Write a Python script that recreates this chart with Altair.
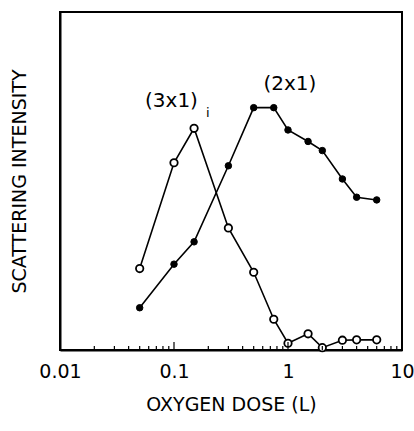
import altair as alt
import pandas as pd

dose = [0.05, 0.1, 0.15, 0.3, 0.5, 0.75, 1, 1.5, 2, 3, 4, 6]
i3x1 = [24.1, 55.4, 65.6, 36.1, 23.0, 9.1, 2.0, 4.8, 0.7, 2.9, 3.0, 3.0]
i2x1 = [12.5, 25.4, 32.0, 54.5, 71.7, 71.7, 65.1, 61.7, 59.0, 50.6, 45.2, 44.4]

x_ticks = [0.01, 0.1, 1, 10]
minor_ticks = [k * d for d in [0.01, 0.1, 1] for k in range(2, 10)]

label_text = ["(3x1)", "i", "(2x1)"]
label_x = [0.095, 0.198, 1.04]
label_y = [73.7, 70.2, 78.7]
label_size = [20, 13, 20]

W, H = 342, 338
FONT = "DejaVu Sans"

df = pd.DataFrame({
    "dose": dose * 2,
    "val": i3x1 + i2x1,
    "series": ["3x1"] * len(dose) + ["2x1"] * len(dose),
})
df_open = df[df.series == "3x1"]
df_fill = df[df.series == "2x1"]

xscale = alt.Scale(type="log", domain=[0.01, 10], nice=False)
yscale = alt.Scale(domain=[0, 100], nice=False)

xenc = alt.X(
    "dose:Q", scale=xscale,
    axis=alt.Axis(values=x_ticks, format="~g", ticks=False, grid=False,
                  title="OXYGEN DOSE (L)", labelFont=FONT, labelFontSize=19,
                  labelColor="black", labelPadding=12, titleFont=FONT,
                  titleFontSize=19, titleFontWeight="normal", titleColor="black",
                  titlePadding=14, domainColor="black", domainWidth=2,
                  labelFlush=False),
)
yenc = alt.Y(
    "val:Q", scale=yscale,
    axis=alt.Axis(labels=False, ticks=False, grid=False,
                  title="SCATTERING INTENSITY", titleFont=FONT, titleFontSize=19,
                  titleFontWeight="normal", titleColor="black", titlePadding=31,
                  domainColor="black", domainWidth=2),
)

line_open = alt.Chart(df_open).mark_line(color="black", strokeWidth=1.6).encode(x=xenc, y=yenc)
line_fill = alt.Chart(df_fill).mark_line(color="black", strokeWidth=1.6).encode(x=xenc, y=yenc)
pts_open = alt.Chart(df_open).mark_point(
    shape="circle", filled=True, fill="white", stroke="black", strokeWidth=1.8,
    size=55, opacity=1).encode(x=xenc, y=yenc)
pts_fill = alt.Chart(df_fill).mark_point(
    shape="circle", filled=True, fill="black", stroke="black", strokeWidth=1,
    size=42, opacity=1).encode(x=xenc, y=yenc)

minor_df = pd.DataFrame({"dose": minor_ticks})
major_df = pd.DataFrame({"dose": x_ticks})
minor = alt.Chart(minor_df).mark_rule(color="black", strokeWidth=1.2).encode(
    x=alt.X("dose:Q", scale=xscale), y=alt.value(H), y2=alt.value(H - 4))
major = alt.Chart(major_df).mark_rule(color="black", strokeWidth=1.2).encode(
    x=alt.X("dose:Q", scale=xscale), y=alt.value(H), y2=alt.value(H - 8))

lab_df = pd.DataFrame({"t": label_text, "dose": label_x, "val": label_y, "s": label_size})
labels = alt.Chart(lab_df).mark_text(font=FONT, fill="black", baseline="middle",
                                     align="center").encode(
    x=alt.X("dose:Q", scale=xscale), y=alt.Y("val:Q", scale=yscale),
    text="t:N", size=alt.Size("s:Q", scale=None, legend=None))

chart = alt.layer(line_open, line_fill, pts_open, pts_fill, minor, major, labels).properties(
    width=W, height=H,
    autosize=alt.AutoSizeParams(type="none"),
    padding={"left": 60, "top": 12, "right": 12, "bottom": 81},
    background="white",
).configure_view(stroke="black", strokeWidth=2)

chart.save("out.html", embed_options={"renderer": "svg", "actions": False})
